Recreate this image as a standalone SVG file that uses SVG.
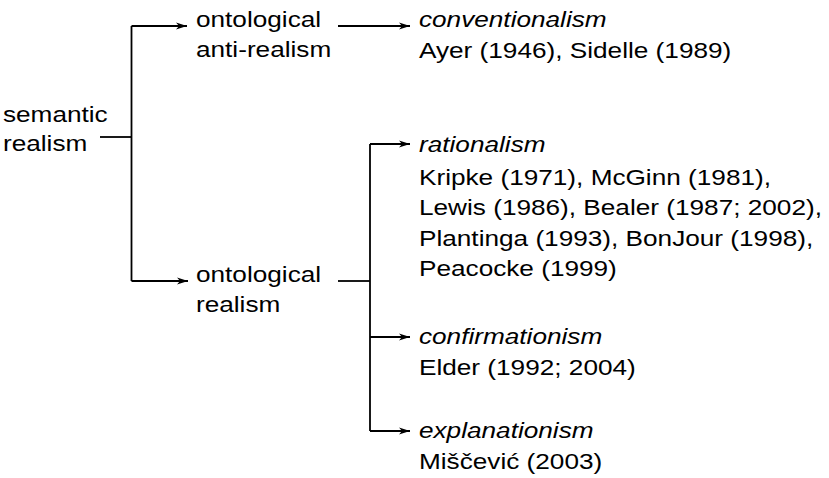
<svg xmlns="http://www.w3.org/2000/svg" width="829" height="478" viewBox="0 0 829 478">
<defs>
<style>
text{font-family:"Liberation Sans",Arial,sans-serif;font-size:22px;fill:#000}
.it{font-style:italic}
.c{fill:none;stroke:#000;stroke-width:1.8}
</style>
<marker id="ah" markerUnits="userSpaceOnUse" markerWidth="12" markerHeight="10" viewBox="0 0 12 10" refX="11" refY="5" orient="auto">
<path d="M0,1.5 L11,5 L0,8.5 L3,5 z" fill="#000"/>
</marker>
</defs>
<rect width="829" height="478" fill="#fff"/>
<g id="connectors">
<path class="c" d="M100,137 H131.5"/>
<path class="c" d="M131.5,26 V281"/>
<path class="c" d="M131.5,26 H187" marker-end="url(#ah)"/>
<path class="c" d="M131.5,281 H188" marker-end="url(#ah)"/>
<path class="c" d="M338,26 H410" marker-end="url(#ah)"/>
<path class="c" d="M338,281 H370"/>
<path class="c" d="M370,144 V431"/>
<path class="c" d="M370,144 H410" marker-end="url(#ah)"/>
<path class="c" d="M370,337 H410" marker-end="url(#ah)"/>
<path class="c" d="M370,431 H410" marker-end="url(#ah)"/>
</g>
<g transform="scale(1.19,1)">
<g id="semantic-realism">
<text x="2.5" y="122">semantic</text>
<text x="2.5" y="151">realism</text>
</g>
<g id="ontological-anti-realism">
<text x="164.7" y="27.5">ontological</text>
<text x="164.7" y="57">anti-realism</text>
</g>
<g id="conventionalism">
<text class="it" x="352.1" y="27">conventionalism</text>
<text x="352.1" y="58">Ayer (1946), Sidelle (1989)</text>
</g>
<g id="ontological-realism">
<text x="164.7" y="282">ontological</text>
<text x="164.7" y="312">realism</text>
</g>
<g id="rationalism">
<text class="it" x="352.1" y="152">rationalism</text>
<text x="352.1" y="185">Kripke (1971), McGinn (1981),</text>
<text x="352.1" y="215">Lewis (1986), Bealer (1987; 2002),</text>
<text x="352.1" y="246">Plantinga (1993), BonJour (1998),</text>
<text x="352.1" y="276">Peacocke (1999)</text>
</g>
<g id="confirmationism">
<text class="it" x="352.1" y="344">confirmationism</text>
<text x="352.1" y="375">Elder (1992; 2004)</text>
</g>
<g id="explanationism">
<text class="it" x="352.1" y="438">explanationism</text>
<text x="352.1" y="469">Miščević (2003)</text>
</g>
</g>
</svg>
